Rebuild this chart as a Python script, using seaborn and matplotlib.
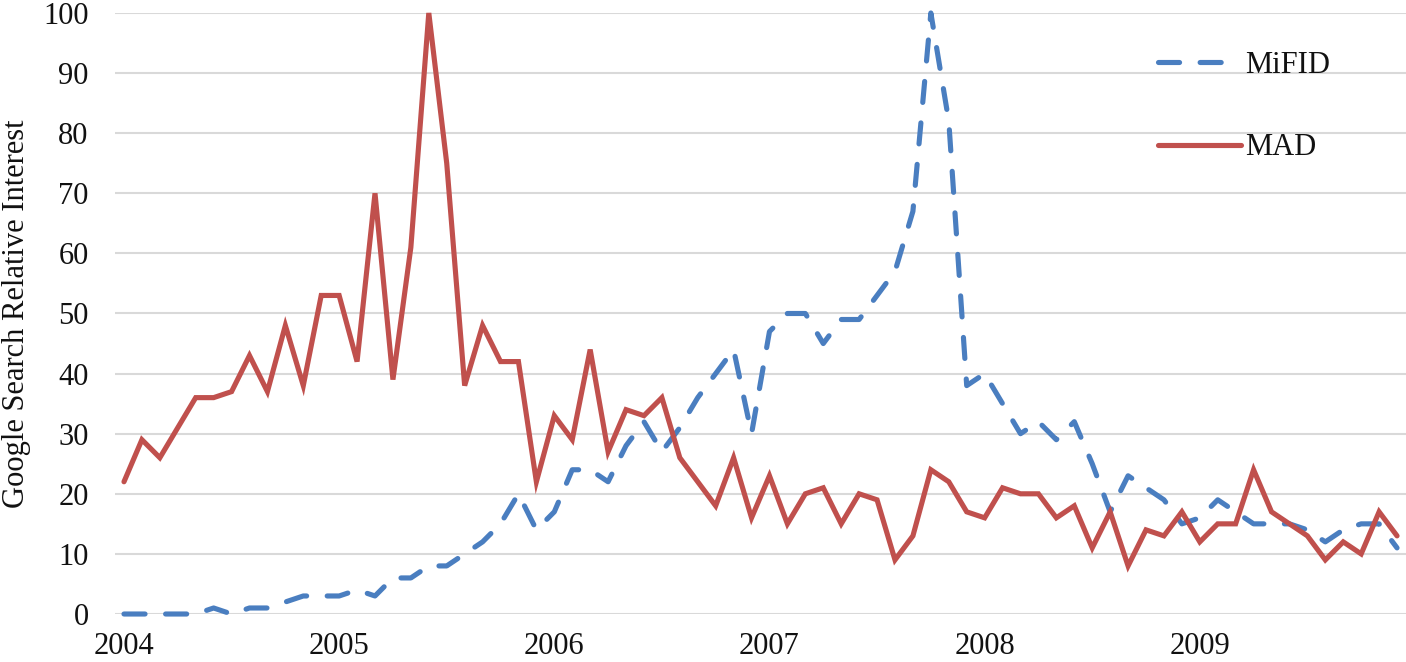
import numpy as np
import pandas as pd
import matplotlib
matplotlib.use("Agg")
import matplotlib.pyplot as plt
import seaborn as sns

# Monthly data, Jan 2004 - Dec 2009
year_labels = ["2004", "2005", "2006", "2007", "2008", "2009"]
mifid = [0, 0, 0, 0, 0, 1, 0, 1, 1, 2, 3, 3,
         3, 4, 3, 6, 6, 8, 8, 10, 12, 15, 20, 14,
         17, 24, 24, 22, 28, 32, 27, 31, 36, 40, 44, 30,
         47, 50, 50, 45, 49, 49, 53, 57, 67, 100, 82, 38,
         40, 35, 30, 32, 29, 32, 25, 17, 23, 21, 19, 15,
         16, 19, 17, 15, 15, 15, 14, 12, 14, 15, 15, 11]
mad = [22, 29, 26, 31, 36, 36, 37, 43, 37, 48, 38, 53,
       53, 42, 70, 39, 61, 100, 75, 38, 48, 42, 42, 22,
       33, 29, 44, 27, 34, 33, 36, 26, 22, 18, 26, 16,
       23, 15, 20, 21, 15, 20, 19, 9, 13, 24, 22, 17,
       16, 21, 20, 20, 16, 18, 11, 17, 8, 14, 13, 17,
       12, 15, 15, 24, 17, 15, 13, 9, 12, 10, 17, 13]
y_ticks = list(range(0, 101, 10))

sns.set_theme(style="white")
plt.rcParams['font.family'] = ['Liberation Serif', 'DejaVu Serif']

df = pd.DataFrame({"month": np.arange(len(mad)), "MiFID": mifid, "MAD": mad})

fig = plt.figure(figsize=(14.06, 6.62), dpi=100)
ax = fig.add_axes([0.0818, 0.0725, 0.9182, 0.9079])

blue = "#4A7EC0"
red = "#C0504D"
sns.lineplot(data=df, x="month", y="MiFID", ax=ax, color=blue, lw=3.7,
             linestyle=(0, (4.1, 4.0)), dash_capstyle="round",
             label="MiFID", clip_on=False, zorder=3)
sns.lineplot(data=df, x="month", y="MAD", ax=ax, color=red, lw=3.7,
             solid_capstyle="round", solid_joinstyle="miter",
             label="MAD", clip_on=False, zorder=3)

ax.set_xlim(-0.5, len(mad) - 0.5)
ax.set_ylim(0, 100)
ax.set_yticks(y_ticks)
ax.set_yticklabels([str(t) for t in y_ticks])
ax.set_xticks([12 * k for k in range(len(year_labels))])
ax.set_xticklabels(year_labels)

ax.yaxis.grid(True, color="#D9D9D9", lw=1.5, zorder=0)
ax.xaxis.grid(False)
for s in ax.spines.values():
    s.set_visible(False)
ax.tick_params(axis="both", length=0, labelsize=22, colors="#111111")
ax.tick_params(axis="y", pad=19)
ax.tick_params(axis="x", pad=13)

ax.set_xlabel("")
ax.set_ylabel("Google Search Relative Interest", fontsize=22, color="#111111", labelpad=9)

leg = ax.legend(loc="upper left", bbox_to_anchor=(0.808, 0.937), frameon=False,
                fontsize=22, handlelength=2.7, handletextpad=0.15,
                labelspacing=1.75, borderpad=0, borderaxespad=0)
for t in leg.get_texts():
    t.set_color("#111111")

fig.savefig("out.png", dpi=100)
